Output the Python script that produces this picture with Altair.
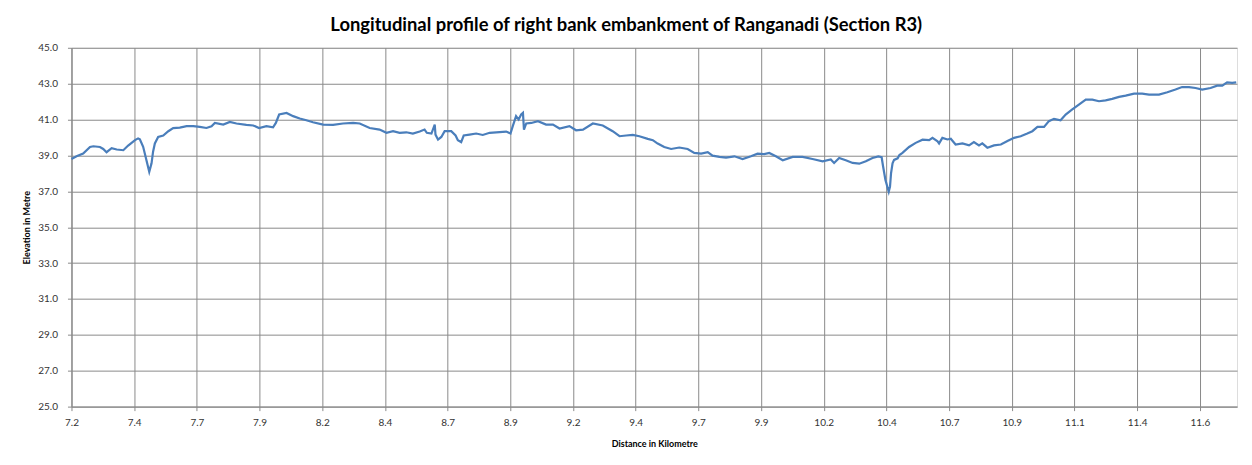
import altair as alt
import pandas as pd

# Distance along embankment (km) and elevation (m)
distance_km = [
    7.200, 7.220, 7.246, 7.273, 7.286, 7.312, 7.325, 7.338, 7.358, 7.378,
    7.404, 7.423, 7.450, 7.462, 7.469, 7.482, 7.493, 7.506, 7.515, 7.521,
    7.528, 7.541, 7.561, 7.581, 7.600, 7.626, 7.653, 7.679, 7.705, 7.731,
    7.751, 7.764, 7.797, 7.823, 7.849, 7.888, 7.915, 7.938, 7.967, 7.993,
    8.004, 8.017, 8.046, 8.072, 8.098, 8.124, 8.150, 8.190, 8.229, 8.268,
    8.308, 8.334,
    8.373, 8.412, 8.439, 8.465, 8.491, 8.517, 8.543, 8.570, 8.589, 8.598,
    8.616, 8.629, 8.632, 8.642, 8.655, 8.668, 8.694, 8.711, 8.720, 8.733,
    8.743, 8.766, 8.792, 8.818, 8.845, 8.871, 8.910, 8.927, 8.936, 8.949,
    8.959, 8.969, 8.976, 8.980, 8.989, 9.009, 9.035, 9.067, 9.094, 9.120,
    9.159, 9.185, 9.212, 9.251, 9.290, 9.329, 9.356, 9.382, 9.408, 9.434,
    9.467,
    9.487, 9.506, 9.532, 9.559, 9.591, 9.624, 9.650, 9.677, 9.703, 9.722,
    9.749, 9.775, 9.808, 9.840, 9.873, 9.899, 9.925, 9.945, 9.971, 9.998,
    10.037, 10.076, 10.115, 10.155, 10.187, 10.200, 10.220, 10.246, 10.273, 10.299,
    10.325, 10.351, 10.374, 10.387, 10.393, 10.402, 10.415, 10.420, 10.424, 10.430,
    10.436, 10.450, 10.457, 10.469, 10.495, 10.521, 10.548, 10.574, 10.587, 10.607,
    10.613, 10.626, 10.646, 10.659, 10.678, 10.705, 10.731, 10.750, 10.770, 10.783,
    10.803, 10.829, 10.856, 10.882, 10.908, 10.934, 10.960, 10.980, 11.000, 11.026,
    11.045, 11.065, 11.091, 11.111, 11.137, 11.163, 11.190, 11.216, 11.242, 11.268,
    11.294, 11.321, 11.347, 11.380, 11.412, 11.439, 11.478, 11.511, 11.543, 11.569,
    11.596, 11.622, 11.648, 11.681, 11.707, 11.727, 11.746, 11.766, 11.782,
]

elevation_m = [
    38.80, 38.95, 39.10, 39.47, 39.51, 39.47, 39.36, 39.18, 39.40, 39.33,
    39.29, 39.55, 39.85, 39.95, 39.90, 39.48, 38.84, 38.09, 38.56, 39.21,
    39.67, 40.03, 40.11, 40.35, 40.52, 40.55, 40.63, 40.63, 40.59, 40.53,
    40.63, 40.81, 40.72, 40.87, 40.78, 40.70, 40.67, 40.53, 40.63, 40.57,
    40.81, 41.28, 41.37, 41.19, 41.06, 40.96, 40.85, 40.72, 40.70, 40.78,
    40.81, 40.78,
    40.53, 40.44, 40.26, 40.35, 40.26, 40.29, 40.22, 40.33, 40.44, 40.26,
    40.22, 40.72, 40.16, 39.88, 40.03, 40.35, 40.35, 40.11, 39.85, 39.74,
    40.11, 40.16, 40.22, 40.14, 40.26, 40.29, 40.33, 40.22, 40.63, 41.19,
    41.00, 41.28, 41.37, 40.44, 40.78, 40.81, 40.91, 40.72, 40.72, 40.50,
    40.63, 40.40, 40.44, 40.78, 40.67, 40.35, 40.07, 40.11, 40.14, 40.07,
    39.92,
    39.85, 39.66, 39.47, 39.36, 39.44, 39.36, 39.14, 39.10, 39.18, 38.99,
    38.92, 38.88, 38.95, 38.80, 38.95, 39.10, 39.07, 39.14, 38.95, 38.73,
    38.92, 38.92, 38.80, 38.67, 38.77, 38.58, 38.86, 38.73, 38.58, 38.54,
    38.67, 38.86, 38.95, 38.90, 38.37, 37.63, 36.98, 37.26, 38.00, 38.56,
    38.75, 38.84, 39.02, 39.14, 39.47, 39.70, 39.88, 39.85, 39.98, 39.79,
    39.67, 39.98, 39.89, 39.93, 39.61, 39.67, 39.56, 39.74, 39.56, 39.67,
    39.43, 39.56, 39.61, 39.80, 39.98, 40.07, 40.22, 40.35, 40.59, 40.59,
    40.91, 41.04, 40.96, 41.28, 41.56, 41.83, 42.11, 42.11, 42.02, 42.07,
    42.15, 42.26, 42.33, 42.44, 42.44, 42.39, 42.39, 42.52, 42.67, 42.81,
    42.81, 42.76, 42.67, 42.76, 42.89, 42.89, 43.07, 43.04, 43.07,
]

# Category-axis tick positions (km) of the labelled points
x_tick_km = [7.2, 7.4466, 7.6932, 7.9398, 8.1864, 8.433, 8.6796, 8.9262,
             9.1728, 9.4194, 9.666, 9.9126, 10.1592, 10.4058, 10.6524,
             10.899, 11.1456, 11.3922, 11.6388]
x_domain = [7.2, 11.785]
y_ticks = [25, 27, 29, 31, 33, 35, 37, 39, 41, 43, 45]
y_domain = [25, 45]

df = pd.DataFrame({"distance": distance_km, "elevation": elevation_m})

FONT = "Lato"
GRID = "#8a8a8a"

common_axis = dict(
    grid=True, gridColor=GRID, gridOpacity=1, gridWidth=1,
    domainColor=GRID, domainOpacity=1, domainWidth=1,
    tickColor=GRID, tickOpacity=1, tickWidth=1, tickSize=4,
    labelFont=FONT, labelFontSize=10, labelColor="#333333",
    titleFont=FONT, titleFontSize=9, titleFontWeight="bold", titleColor="#000000",
)

line = alt.Chart(df).mark_line(color="#4A7EBB", strokeWidth=2.2).encode(
    x=alt.X(
        "distance:Q",
        scale=alt.Scale(domain=x_domain, nice=False, zero=False),
        axis=alt.Axis(
            values=x_tick_km, format=".1f", title="Distance in Kilometre",
            labelPadding=7, titlePadding=12,
            labelFlush=False, labelOverlap=False, **common_axis,
        ),
    ),
    y=alt.Y(
        "elevation:Q",
        scale=alt.Scale(domain=y_domain, nice=False, zero=False),
        axis=alt.Axis(
            values=y_ticks, format=".1f", title="Elevation in Metre",
            labelPadding=10, titlePadding=6, **common_axis,
        ),
    ),
)

chart = line.properties(
    width=1166,
    height=359,
    autosize=alt.AutoSizeParams(type="none"),
    padding={"left": 63.5, "top": 39.7, "right": 7, "bottom": 50},
    title=alt.TitleParams(
        "Longitudinal profile of right bank embankment of Ranganadi (Section R3)",
        font=FONT, fontSize=18.4, fontWeight="bold", color="#000000",
        anchor="middle", offset=8, dx=-28,
    ),
).configure_view(
    stroke=None
).configure(background="white")

chart.save("out.html", embed_options={"renderer": "svg", "actions": False})
